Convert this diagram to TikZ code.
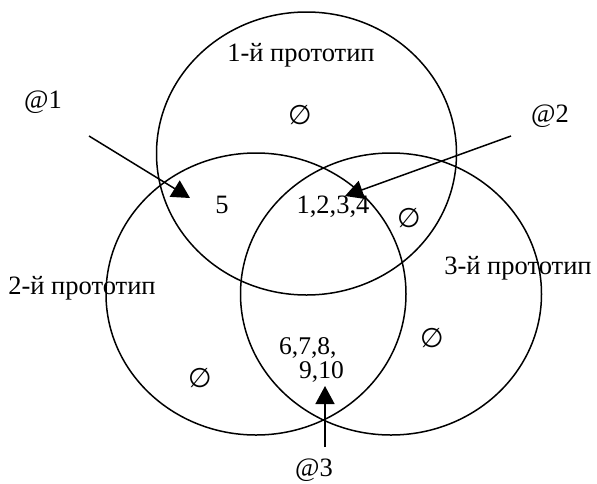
\documentclass[tikz,border=0pt]{standalone}
\usepackage{fontspec}
\setmainfont{Liberation Serif}
\newfontfamily\symfnt{DejaVu Sans}
\usetikzlibrary{arrows.meta}
\tikzset{
  ring/.style={line width=1.5pt},
  lbl/.style={inner sep=0pt, anchor=center, font=\fontsize{26.5}{30}\selectfont},
  emp/.style={inner sep=0pt, anchor=center, font=\symfnt\fontsize{27}{30}\selectfont},
  pointer/.style={line width=1.5pt, -{Triangle[length=18pt,width=19pt]}}
}
\begin{document}
\begin{tikzpicture}[x=1pt,y=-1pt]
\useasboundingbox (0,0) rectangle (597,483);
% three sets
\draw[ring] (306.5,153.5) ellipse [x radius=150pt, y radius=141.5pt];
\draw[ring] (256,294) ellipse [x radius=150pt, y radius=141pt];
\draw[ring] (391,294) ellipse [x radius=150.5pt, y radius=141pt];
% labels
\node[lbl] (p1) at (301,55) {1-й прототип};
\node[lbl] (p2) at (82,288) {2-й прототип};
\node[lbl] (p3) at (518,268) {3-й прототип};
\node[lbl] (a1) at (43,102) {@1};
\node[lbl] (a2) at (550,116) {@2};
\node[lbl] (a3) at (314,470) {@3};
\node[lbl] (n5) at (222,205) {5};
\node[lbl] (n1234) at (333,207) {1,2,3,4};
\node[lbl, anchor=north west, align=left, font=\fontsize{25.5}{24.5}\selectfont]
  (n678) at (279,337) {6,7,8,\\\hspace*{20pt}9,10};
\node[emp] (e1) at (300,115) {∅};
\node[emp] (e2) at (409,218) {∅};
\node[emp] (e3) at (432,338) {∅};
\node[emp] (e4) at (200,378) {∅};
% arrows
\coordinate (s1) at (89,136);
\coordinate (t1) at (190,198);
\coordinate (s2) at (511,136);
\coordinate (t2) at (345,196);
\coordinate (s3) at (325,447);
\coordinate (t3) at (325,386);
\draw[pointer] (s1) -- (t1);
\draw[pointer] (s2) -- (t2);
\draw[pointer] (s3) -- (t3);
\end{tikzpicture}
\end{document}
